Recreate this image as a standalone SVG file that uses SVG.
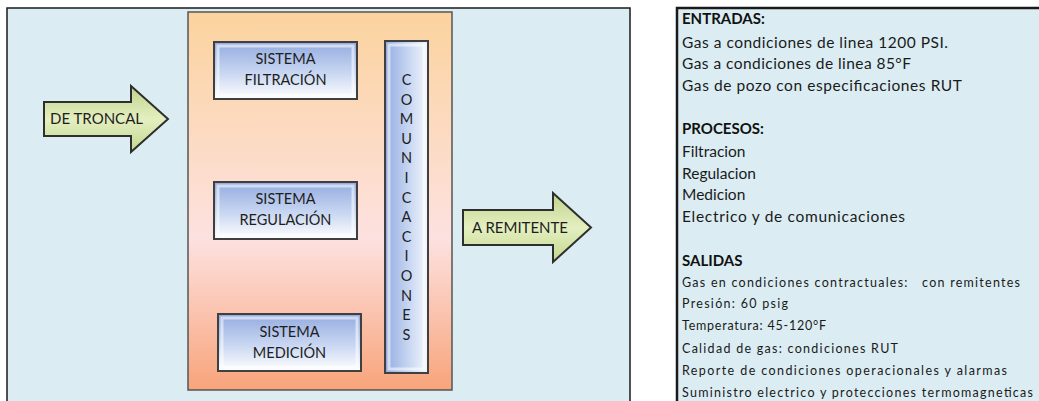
<svg xmlns="http://www.w3.org/2000/svg" width="1039" height="401" viewBox="0 0 1039 401">
  <defs>
    <linearGradient id="gOrange" x1="0" y1="0" x2="0" y2="1">
      <stop offset="0" stop-color="#FBD39E"/>
      <stop offset="0.6" stop-color="#FDE1E0"/>
      <stop offset="1" stop-color="#F8A47A"/>
    </linearGradient>
    <linearGradient id="gBlue" x1="0" y1="0" x2="0" y2="1">
      <stop offset="0" stop-color="#93ABDF"/>
      <stop offset="0.55" stop-color="#C9D7F2"/>
      <stop offset="1" stop-color="#FFFFFF"/>
    </linearGradient>
    <linearGradient id="gBlueV" x1="0" y1="0" x2="1" y2="0">
      <stop offset="0" stop-color="#93ABDF"/>
      <stop offset="0.5" stop-color="#C2D2F0"/>
      <stop offset="1" stop-color="#F4F7FD"/>
    </linearGradient>
    <linearGradient id="gGreen" x1="0" y1="0" x2="0" y2="1">
      <stop offset="0" stop-color="#BFD38A"/>
      <stop offset="0.5" stop-color="#E4EFC0"/>
      <stop offset="1" stop-color="#C3D790"/>
    </linearGradient>
    <style>
      .panel { fill: #DBEDF3; }
      .frame { stroke: #1A1A1A; stroke-width: 1.5; fill: none; }
      .box { fill: url(#gBlue); stroke: #404040; stroke-width: 2; }
      .bevel { fill: none; stroke: #FFFFFF; stroke-opacity: 0.55; stroke-width: 3; }
      .arrow { fill: url(#gGreen); stroke: #2E2E2E; stroke-width: 2; stroke-linejoin: miter; }
      .lbl { font-family: Lato, "Liberation Sans", sans-serif; font-size: 14.5px; fill: #1E1E1E; text-anchor: middle; }
      .alb { font-family: Lato, "Liberation Sans", sans-serif; font-size: 15px; fill: #1E1E1E; }
      .vl { font-family: Lato, "Liberation Sans", sans-serif; font-size: 14.5px; fill: #1E1E1E; text-anchor: middle; }
      .h { font-family: Lato, "Liberation Sans", sans-serif; font-size: 15px; font-weight: bold; fill: #111; }
      .t { font-family: Lato, "Liberation Sans", sans-serif; font-size: 15.5px; fill: #1A1A1A; }
      .s { font-family: Lato, "Liberation Sans", sans-serif; font-size: 12.5px; fill: #1A1A1A; white-space: pre; }
    </style>
  </defs>

  <rect width="1039" height="401" fill="#FFFFFF"/>

  <!-- left process panel -->
  <g id="process-panel">
    <rect class="panel" x="7" y="8" width="623" height="393"/>
    <path class="frame" d="M7,401 V8 H630 V401"/>
  </g>

  <!-- station enclosure -->
  <g id="station">
    <rect x="188" y="12" width="264" height="378" fill="url(#gOrange)" stroke="#555" stroke-width="1.5"/>
  </g>

  <g id="sistema-filtracion">
    <rect class="box" x="214" y="42" width="143" height="57"/>
    <rect class="bevel" x="218" y="46" width="135" height="49"/>
    <text class="lbl" x="285.5" y="64">SISTEMA</text>
    <text class="lbl" x="285.5" y="85">FILTRACIÓN</text>
  </g>

  <g id="sistema-regulacion">
    <rect class="box" x="214" y="182" width="143" height="57"/>
    <rect class="bevel" x="218" y="186" width="135" height="49"/>
    <text class="lbl" x="285.5" y="204">SISTEMA</text>
    <text class="lbl" x="285.5" y="225">REGULACIÓN</text>
  </g>

  <g id="sistema-medicion">
    <rect class="box" x="218" y="314" width="143" height="57"/>
    <rect class="bevel" x="222" y="318" width="135" height="49"/>
    <text class="lbl" x="289.5" y="337">SISTEMA</text>
    <text class="lbl" x="289.5" y="358">MEDICIÓN</text>
  </g>

  <g id="comunicaciones">
    <rect x="385" y="41" width="43" height="332" fill="url(#gBlueV)" stroke="#404040" stroke-width="2"/>
    <rect class="bevel" x="389" y="45" width="35" height="324"/>
    <text class="vl" x="406.5" y="85">C</text>
    <text class="vl" x="406.5" y="104.6">O</text>
    <text class="vl" x="406.5" y="124.2">M</text>
    <text class="vl" x="406.5" y="143.8">U</text>
    <text class="vl" x="406.5" y="163.4">N</text>
    <text class="vl" x="406.5" y="183">I</text>
    <text class="vl" x="406.5" y="202.6">C</text>
    <text class="vl" x="406.5" y="222.2">A</text>
    <text class="vl" x="406.5" y="241.8">C</text>
    <text class="vl" x="406.5" y="261.4">I</text>
    <text class="vl" x="406.5" y="281">O</text>
    <text class="vl" x="406.5" y="300.6">N</text>
    <text class="vl" x="406.5" y="320.2">E</text>
    <text class="vl" x="406.5" y="339.8">S</text>
  </g>

  <!-- flow arrows -->
  <g id="connectors">
    <g id="de-troncal">
      <path class="arrow" d="M44,102 H131 V86 L168,119 L131,152 V136 H44 Z"/>
      <text class="alb" x="50" y="124" textLength="93" lengthAdjust="spacing">DE TRONCAL</text>
    </g>
    <g id="a-remitente">
      <path class="arrow" d="M463,210 H553 V193 L591,227.5 L553,262 V245 H463 Z"/>
      <text class="alb" x="472" y="233" textLength="96" lengthAdjust="spacing">A REMITENTE</text>
    </g>
  </g>

  <!-- summary panel -->
  <g id="summary">
    <rect class="panel" x="676" y="8" width="363" height="393"/>
    <path d="M677,401 V8 H1039" fill="none" stroke="#1A1A1A" stroke-width="2.5"/>
    <text class="h" x="682" y="24">ENTRADAS:</text>
    <text class="t" x="682" y="48" textLength="266" lengthAdjust="spacing">Gas a condiciones de linea 1200 PSI.</text>
    <text class="t" x="682" y="69" textLength="229" lengthAdjust="spacing">Gas a condiciones de linea 85°F</text>
    <text class="t" x="682" y="91" textLength="280" lengthAdjust="spacing">Gas de pozo con especificaciones RUT</text>
    <text class="h" x="682" y="134">PROCESOS:</text>
    <text class="t" x="682" y="157">Filtracion</text>
    <text class="t" x="682" y="179">Regulacion</text>
    <text class="t" x="682" y="200">Medicion</text>
    <text class="t" x="682" y="222" textLength="223" lengthAdjust="spacing">Electrico y de comunicaciones</text>
    <text class="h" x="682" y="266">SALIDAS</text>
    <text class="s" x="682" y="287" textLength="338" lengthAdjust="spacing">Gas en condiciones contractuales:   con remitentes</text>
    <text class="s" x="682" y="308" textLength="106" lengthAdjust="spacing">Presión: 60 psig</text>
    <text class="s" x="682" y="330" textLength="144" lengthAdjust="spacing">Temperatura: 45-120°F</text>
    <text class="s" x="682" y="353" textLength="216" lengthAdjust="spacing">Calidad de gas: condiciones RUT</text>
    <text class="s" x="682" y="375" textLength="325" lengthAdjust="spacing">Reporte de condiciones operacionales y alarmas</text>
    <text class="s" x="682" y="397" textLength="351" lengthAdjust="spacing">Suministro electrico y protecciones termomagneticas</text>
  </g>
</svg>
